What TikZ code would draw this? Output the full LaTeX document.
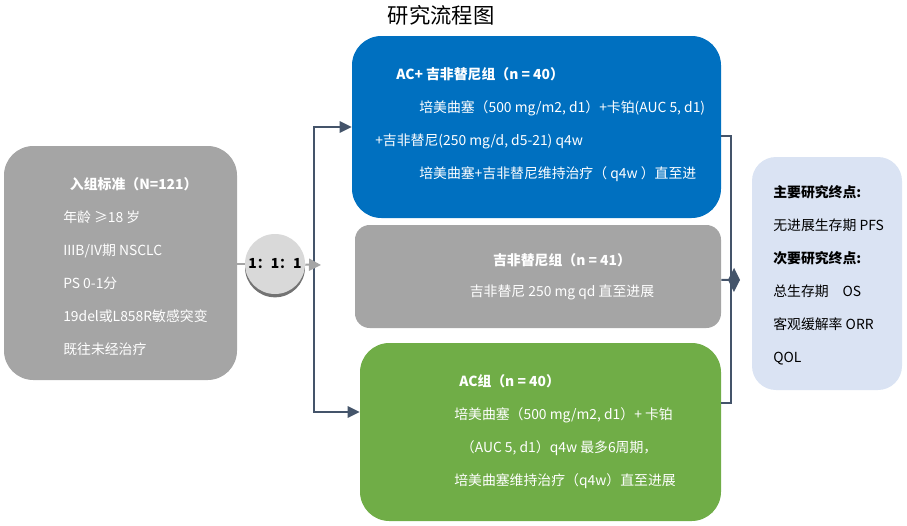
\documentclass[tikz,border=0pt]{standalone}
\usepackage{fontspec}
\setmainfont{Noto Sans CJK SC}
\usepackage{xcolor}
\usepackage{tikz}
\usetikzlibrary{arrows.meta, positioning, shadows}
\definecolor{armblue}{HTML}{0070C0}
\definecolor{armgray}{HTML}{A5A5A5}
\definecolor{armgreen}{HTML}{70AD47}
\definecolor{endblue}{HTML}{DAE3F3}
\definecolor{slate}{HTML}{44546A}
\definecolor{ratiogray}{HTML}{D9D9D9}
\tikzset{
  armbox/.style  ={rectangle, rounded corners=22pt, draw=none, inner sep=0pt},
  endbox/.style  ={rectangle, rounded corners=18pt, draw=none, fill=endblue, inner sep=0pt},
  ratio/.style   ={circle, fill=ratiogray, inner sep=0pt, minimum size=45pt,
                   font=\fontsize{10.4}{12}\selectfont\bfseries,
                   drop shadow={shadow xshift=0pt, shadow yshift=-2.5pt, fill=black!55, opacity=1}},
  txt/.style     ={align=left, inner sep=0pt, text=white, font=\fontsize{10.4}{24.75}\selectfont},
  flow/.style    ={-{Triangle[length=9pt, width=8.5pt]}, draw=slate, line width=1.5pt},
  bus/.style     ={draw=slate, line width=1.5pt},
  feed/.style    ={draw=armgray, line width=1.5pt},
  headline/.style={font=\fontsize{16}{18}\selectfont},
}
\begin{document}
\begin{tikzpicture}[x=0.75pt, y=-0.75pt]
  \useasboundingbox (0,0) rectangle (907,525);
  \node[headline] (title) at (441,15) {研究流程图};
  \node[armbox, fill=armgray, minimum width=174.75pt, minimum height=175.5pt] (crit) at (120.5,263) {};
  \node[armbox, fill=armblue, minimum width=276.75pt, minimum height=136.5pt] (acg) at (536.5,127) {};
  \node[armbox, fill=armgray, rounded corners=11pt, minimum width=274.5pt, minimum height=77.25pt] (gef) at (538,276.5) {};
  \node[armbox, fill=armgreen, minimum width=270.75pt, minimum height=133.5pt] (ac) at (540.5,432) {};
  \node[endbox, minimum width=112.5pt, minimum height=174.75pt] (endp) at (827,273.5) {};
  \node[ratio] (rand) at (275,264) {1：1：1};
  \node[txt, anchor=west] (crittxt) at (63,267)
    {\hspace*{5pt}\textbf{入组标准（N=121）}\\年龄 ≥18 岁\\IIIB/IV期 NSCLC\\PS 0-1分\\19del或L858R敏感突变\\既往未经治疗};
  \node[txt, anchor=west] (acgtxt) at (375,124.5)
    {\hspace*{15.75pt}\textbf{AC+ 吉非替尼组（n = 40）}\\
     \hspace*{33pt}培美曲塞（500 mg/m2, d1）+卡铂(AUC 5, d1)\\
     +吉非替尼(250 mg/d, d5-21) q4w\\
     \hspace*{33pt}培美曲塞+吉非替尼维持治疗（ q4w ）直至进};
  \node[txt, align=center, font=\fontsize{10.4}{23.25}\selectfont] (geftxt) at (562,276.5)
    {\textbf{吉非替尼组（n = 41）}\\吉非替尼 250 mg qd 直至进展};
  \node[txt, anchor=west] (actxt) at (454,431.5)
    {\hspace*{3.75pt}\textbf{AC组（n = 40）}\\
     培美曲塞（500 mg/m2, d1）+ 卡铂\\
     \hspace*{5pt}（AUC 5, d1）q4w 最多6周期，\\
     培美曲塞维持治疗（q4w）直至进展};
  \node[txt, anchor=west, text=black] (endtxt) at (773,275.5)
    {\textbf{主要研究终点:}\\无进展生存期 PFS\\\textbf{次要研究终点:}\\总生存期\quad OS\\客观缓解率 ORR\\QOL};
  \coordinate (fork)  at (314,265);
  \coordinate (split) at (321,265);
  \coordinate (join)  at (731,280);
  \coordinate (merge) at (740,280);
  \draw[feed] (crit.east |- rand) -- (rand);
  \draw[flow] (fork) |- (acg.west);
  \draw[flow] (fork) |- ([yshift=15pt]ac.west);
  \draw[feed, -{Triangle[length=9pt, width=9pt]}] (rand) -- (split);
  \draw[bus] ([yshift=-6.75pt]acg.east) -| (join);
  \draw[bus] ([yshift=21.75pt]ac.east) -| (join);
  \draw[bus, -{Diamond[length=9pt, width=18pt]}] ([yshift=-2.5pt]gef.east) -- (merge);
\end{tikzpicture}
\end{document}
